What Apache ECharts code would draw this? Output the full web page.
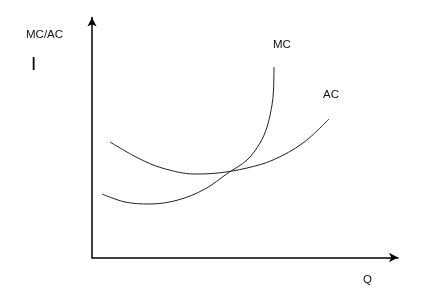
<!DOCTYPE html>
<html>
<head>
<meta charset="utf-8">
<script src="https://cdn.jsdelivr.net/npm/echarts@6/dist/echarts.min.js"></script>
<style>
html,body{margin:0;padding:0;background:#fff;}
#c{width:432px;height:294px;}
</style>
</head>
<body>
<div id="c"></div>
<script>
// Quantity (x) and cost (y) in arbitrary units
var mcQ    = [10, 33, 58, 86, 113, 136, 155, 168, 175, 180, 181.5, 182];
var mcCost = [63.5, 55.5, 53.5, 57.5, 68.5, 84.5, 97.5, 114.5, 130.5, 152.5, 167.5, 190.5];
var acQ    = [18, 46, 70, 103, 126, 155, 181, 211, 237];
var acCost = [115.5, 99.5, 89.5, 83.5, 84.5, 89.5, 97.5, 114.5, 138.5];
var xMax = 306, yMax = 240;

function pairs(xs, ys){ return xs.map(function(x,i){ return [x, ys[i]]; }); }

var chart = echarts.init(document.getElementById('c'), null, {renderer:'canvas'});
var axisCommon = {
  type:'value', min:0,
  axisLine:{show:true, lineStyle:{color:'#000', width:1.5}, symbol:['none','arrow'], symbolSize:[7,9]},
  axisTick:{show:false}, axisLabel:{show:false}, splitLine:{show:false}
};
var font = 'Liberation Sans, Arial, sans-serif';
chart.setOption({
  animation:false,
  backgroundColor:'#fff',
  grid:{left:92, right:34, top:17.5, bottom:36.5},
  xAxis: Object.assign({}, axisCommon, {max:xMax}),
  yAxis: Object.assign({}, axisCommon, {max:yMax}),
  series:[
    {type:'line', name:'MC', data:pairs(mcQ, mcCost), smooth:0.35, showSymbol:false,
     lineStyle:{color:'#222', width:1}},
    {type:'line', name:'AC', data:pairs(acQ, acCost), smooth:0.35, showSymbol:false,
     lineStyle:{color:'#222', width:1}}
  ],
  graphic:[
    {type:'text', left:26, top:29, style:{text:'MC/AC', fontSize:11.5, fontFamily:font, fill:'#111'}},
    {type:'text', left:31, top:55, style:{text:'I', fontSize:19, fontFamily:font, fill:'#000'}},
    {type:'text', left:273, top:39, style:{text:'MC', fontSize:11.5, fontFamily:font, fill:'#111'}},
    {type:'text', left:323, top:89, style:{text:'AC', fontSize:11.5, fontFamily:font, fill:'#111'}},
    {type:'text', left:363, top:274, style:{text:'Q', fontSize:11.5, fontFamily:font, fill:'#111'}}
  ]
});
</script>
</body>
</html>
